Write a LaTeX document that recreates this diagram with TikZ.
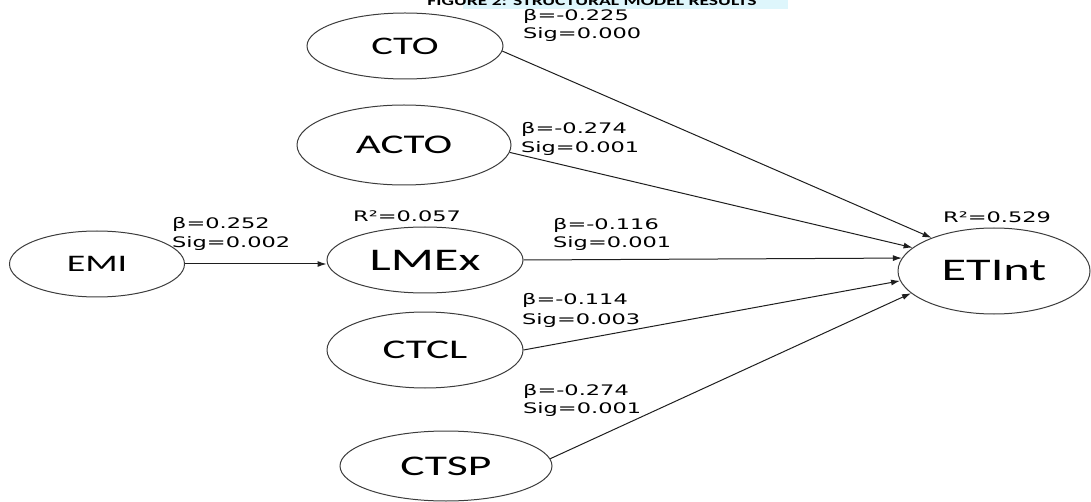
\documentclass[tikz,border=0pt]{standalone}
\usepackage{fontspec}
\usetikzlibrary{shapes.geometric,arrows.meta}
\newfontfamily\labfont[FakeStretch=1.55]{DejaVu Sans}
\newfontfamily\nodefont[FakeStretch=1.6]{Carlito}
\newfontfamily\titlefont[FakeStretch=1.45]{Carlito}
\definecolor{hilite}{RGB}{222,246,252}
\definecolor{edge}{RGB}{60,60,60}
\definecolor{conn}{RGB}{30,30,30}
\tikzset{
  var/.style={ellipse, draw=edge, line width=1pt, inner sep=0pt, text=black},
  lab/.style={anchor=base west, inner sep=0pt, font=\labfont\fontsize{14.5}{18}\selectfont, text=black},
  path/.style={draw=conn, line width=1pt, -{Latex[length=9pt,width=6pt]}}
}
\begin{document}
\begin{tikzpicture}[x=1pt,y=-1pt]
\useasboundingbox (0,0) rectangle (1091,502);
\fill[hilite] (463,-5) rectangle (788,9);
\node[anchor=base, inner sep=0pt, font=\titlefont\bfseries\fontsize{13.5}{16}\selectfont] (title) at (592,5.5) {FIGURE 2: STRUCTURAL MODEL RESULTS};

\node[var, minimum width=175, minimum height=66, font=\nodefont\fontsize{23.7}{28}\selectfont] (emi) at (97,264) {EMI};
\node[var, minimum width=196, minimum height=66, font=\nodefont\fontsize{31.5}{36}\selectfont] (lmex) at (425,260) {LMEx};
\node[var, minimum width=196, minimum height=66, font=\nodefont\fontsize{25.3}{30}\selectfont] (cto) at (405,46) {CTO};
\node[var, minimum width=214, minimum height=80, font=\nodefont\fontsize{27}{32}\selectfont] (acto) at (404,145) {ACTO};
\node[var, minimum width=196, minimum height=76, font=\nodefont\fontsize{27}{32}\selectfont] (ctcl) at (425,350) {CTCL};
\node[var, minimum width=212, minimum height=70, font=\nodefont\fontsize{28.5}{33}\selectfont] (ctsp) at (446,466) {CTSP};
\node[var, minimum width=192, minimum height=86, font=\nodefont\fontsize{31.5}{36}\selectfont] (etint) at (994,271) {ETInt};

\draw[path] (emi.east) -- (lmex.west |- emi.east);
\draw[path] (cto.-3) -- (etint.152);
\draw[path] (acto.-4) -- (etint.164);
\draw[path] (lmex.east) -- (etint.172);
\draw[path] (ctcl.east) -- (etint.186);
\draw[path] (ctsp.4) -- (etint.195);

\node[lab] (b1) at (523,20.5) {β=-0.225};
\node[lab] (s1) at (523,38.5) {Sig=0.000};
\node[lab] (b2) at (521,133.3) {β=-0.274};
\node[lab] (s2) at (521,152.5) {Sig=0.001};
\node[lab] (b3) at (553,229.3) {β=-0.116};
\node[lab] (s3) at (553,247.7) {Sig=0.001};
\node[lab] (b4) at (172,228.3) {β=0.252};
\node[lab] (s4) at (172,247.3) {Sig=0.002};
\node[lab] (b5) at (522,305) {β=-0.114};
\node[lab] (s5) at (522,324) {Sig=0.003};
\node[lab] (b6) at (523,395) {β=-0.274};
\node[lab] (s6) at (523,413.3) {Sig=0.001};
\node[lab] (r1) at (353,221.7) {R²=0.057};
\node[lab] (r2) at (943,222.7) {R²=0.529};
\end{tikzpicture}
\end{document}
